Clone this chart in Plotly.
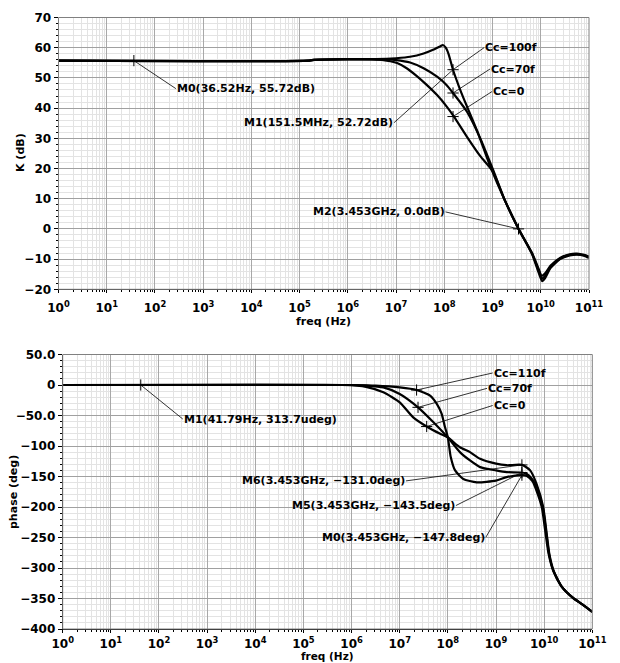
import math
import plotly.graph_objects as go

# ---------------- data: magnitude K (dB) vs log10(freq/Hz) ----------------
lgf_k100 = [0, 5.2, 5.3, 6.0, 6.8, 7.0, 7.29, 7.57, 7.78, 7.92, 7.97, 8.03, 8.09, 8.18, 8.3, 8.4,
            8.68, 8.95, 9.25, 9.54, 9.82, 9.95, 10.03, 10.1, 10.2, 10.4, 10.6, 10.75, 10.9, 11.0]
k_cc100 = [55.72, 55.75, 56.0, 56.2, 56.3, 56.5, 57.0, 58.1, 59.4, 60.5, 60.9, 60.0, 57.8, 52.7, 47.3, 43.2,
           32.5, 20.8, 9.6, 0.0, -8.4, -14.2, -17.3, -16.0, -13.0, -10.0, -8.8, -8.5, -8.9, -9.6]

lgf_k70 = [0, 5.2, 5.3, 6.0, 6.8, 7.0, 7.29, 7.57, 7.85, 8.05, 8.18, 8.47, 8.75, 9.0, 9.25, 9.54,
           9.82, 9.95, 10.03, 10.1, 10.2, 10.4, 10.6, 10.75, 10.9, 11.0]
k_cc70 = [55.72, 55.75, 56.0, 56.2, 56.1, 55.9, 55.1, 53.2, 50.4, 47.6, 45.0, 38.8, 29.8, 20.0, 9.7, 0.0,
          -8.2, -13.6, -16.5, -15.3, -12.6, -9.8, -8.6, -8.4, -8.8, -9.4]

lgf_k0 = [0, 5.2, 5.3, 6.0, 6.5, 6.74, 6.88, 7.02, 7.22, 7.43, 7.64, 7.85, 8.05, 8.2, 8.47, 8.75,
          9.0, 9.25, 9.54, 9.82, 9.95, 10.02, 10.1, 10.2, 10.4, 10.6, 10.75, 10.9, 11.0]
k_cc0 = [55.72, 55.75, 56.0, 56.15, 56.1, 55.9, 55.5, 54.9, 53.2, 50.6, 47.6, 44.3, 40.5, 37.2, 30.5, 24.0,
         19.2, 9.6, 0.0, -8.0, -13.0, -15.5, -14.5, -12.2, -9.6, -8.4, -8.2, -8.6, -9.2]

# ---------------- data: phase (deg) vs log10(freq/Hz) ----------------
lgf_p110 = [0, 6.0, 6.5, 7.0, 7.35, 7.63, 7.77, 7.87, 7.94, 8.0, 8.06, 8.15, 8.32, 8.6, 9.0, 9.22,
            9.54, 9.64, 9.76, 9.84, 9.95, 10.02, 10.09, 10.19, 10.36, 10.6, 10.8, 11.0]
p_cc110 = [0, 0, -1, -3.9, -8.2, -17.5, -31, -47, -69, -86, -118, -140, -154, -159.5, -156.8, -151,
           -147.8, -149, -158, -173, -200, -238, -276, -305, -330, -349, -360, -372]

lgf_p70 = [0, 6.0, 6.3, 6.66, 7.0, 7.38, 7.7, 8.0, 8.25, 8.46, 8.67, 9.0, 9.22, 9.54, 9.64, 9.76,
           9.86, 9.97, 10.04, 10.1, 10.19, 10.36, 10.6, 10.8, 11.0]
p_cc70 = [0, 0, -1, -4, -14.7, -36.6, -61, -86, -110, -123.7, -134.6, -140, -142.8, -143.5, -146, -155,
          -172, -200, -240, -276, -304, -330, -349, -360, -372]

lgf_p0 = [0, 5.8, 6.3, 6.66, 7.0, 7.28, 7.56, 7.84, 8.0, 8.25, 8.46, 8.67, 9.0, 9.22, 9.54, 9.71,
          9.84, 9.98, 10.05, 10.11, 10.19, 10.36, 10.6, 10.8, 11.0]
p_cc0 = [0, 0, -3, -12, -28.4, -53, -68, -80, -86, -102, -110, -121, -129, -131.5, -131.0, -140,
         -161.7, -200, -242, -278, -303, -330, -349, -360, -372]

# ---------------- markers ----------------
mk_top_f = [36.52, 151.5e6, 151.5e6, 151.5e6, 3.453e9]
mk_top_v = [55.72, 52.72, 45.0, 37.2, 0.0]
mk_bot_f = [41.79, 2.24e7, 2.4e7, 3.63e7, 3.453e9, 3.453e9, 3.453e9]
mk_bot_v = [0.0, -8.2, -36.6, -68.0, -131.0, -143.5, -147.8]

# ---------------- tick labels ----------------
x_tickvals = [10 ** i for i in range(12)]
x_ticktext = ["10<sup>%d</sup>" % i for i in range(12)]
k_tickvals = [70, 60, 50, 40, 30, 20, 10, 0, -10, -20]
k_ticktext = ["70", "60", "50", "40", "30", "20", "10", "0", "\u221210", "\u221220"]
p_tickvals = [50, 0, -50, -100, -150, -200, -250, -300, -350, -400]
p_ticktext = ["50.0", "0", "\u221250.0", "\u2212100", "\u2212150", "\u2212200", "\u2212250",
              "\u2212300", "\u2212350", "\u2212400"]

FONT = "DejaVu Sans"
W, H = 620, 663

fig = go.Figure()

line_style = dict(color="black", width=2.2, shape="spline", smoothing=0.6)

def hz(lst):
    return [10 ** v for v in lst]

for lg, vals in [(lgf_k0, k_cc0), (lgf_k70, k_cc70), (lgf_k100, k_cc100)]:
    fig.add_trace(go.Scatter(x=hz(lg), y=vals, mode="lines", line=line_style,
                             xaxis="x", yaxis="y", showlegend=False, hoverinfo="skip"))
for lg, vals in [(lgf_p0, p_cc0), (lgf_p70, p_cc70), (lgf_p110, p_cc110)]:
    fig.add_trace(go.Scatter(x=hz(lg), y=vals, mode="lines", line=line_style,
                             xaxis="x2", yaxis="y2", showlegend=False, hoverinfo="skip"))

mk = dict(symbol="cross-thin", size=8, color="black", line=dict(width=1, color="black"))
fig.add_trace(go.Scatter(x=mk_top_f, y=mk_top_v, mode="markers", marker=mk,
                         xaxis="x", yaxis="y", showlegend=False, hoverinfo="skip"))
fig.add_trace(go.Scatter(x=mk_bot_f, y=mk_bot_v, mode="markers", marker=mk,
                         xaxis="x2", yaxis="y2", showlegend=False, hoverinfo="skip"))

# ---------------- axes ----------------
def xaxis(domain, anchor, standoff):
    return dict(type="log", domain=domain, anchor=anchor, range=[0, 11],
                tickmode="array", tickvals=x_tickvals, ticktext=x_ticktext,
                tickfont=dict(family=FONT, size=12, color="black", weight="bold"),
                ticks="outside", ticklen=3, tickcolor="black", ticklabelstandoff=standoff,
                showline=True, linecolor="black", linewidth=1,
                showgrid=True, gridcolor="#a8a8a8", gridwidth=1,
                minor=dict(dtick="D1", showgrid=True, gridcolor="#e3e3e3", gridwidth=1,
                           ticks="outside", ticklen=2, tickcolor="black"),
                zeroline=False, automargin=False, fixedrange=True)

def yaxis(domain, anchor, rng, tv, tt, mdt):
    return dict(domain=domain, anchor=anchor, range=rng,
                tickmode="array", tickvals=tv, ticktext=tt,
                tickfont=dict(family=FONT, size=12, color="black", weight="bold"),
                ticks="outside", ticklen=4, tickcolor="black",
                showline=True, linecolor="black", linewidth=1,
                showgrid=True, gridcolor="#a0a0a0", gridwidth=1,
                minor=dict(dtick=mdt, showgrid=True, gridcolor="#e3e3e3", gridwidth=1,
                           ticks="outside", ticklen=2, tickcolor="black"),
                zeroline=False, automargin=False, fixedrange=True)

xd1 = [58.5 / W, 589.0 / W]
yd1 = [1 - 289.3 / H, 1 - 17.5 / H]
xd2 = [62.7 / W, 592.3 / W]
yd2 = [1 - 629.0 / H, 1 - 354.5 / H]

fig.update_layout(
    width=W, height=H,
    margin=dict(l=0, r=0, t=0, b=0),
    paper_bgcolor="white", plot_bgcolor="white",
    showlegend=False,
    xaxis=xaxis(xd1, "y", 4),
    yaxis=yaxis(yd1, "x", [-20, 70], k_tickvals, k_ticktext, 2),
    xaxis2=xaxis(xd2, "y2", 1),
    yaxis2=yaxis(yd2, "x2", [-400, 50], p_tickvals, p_ticktext, 10),
)

# plot frame (top / right edges)
for xr, yr in [("x domain", "y domain"), ("x2 domain", "y2 domain")]:
    fig.add_shape(type="rect", xref=xr, yref=yr, x0=0, x1=1, y0=0, y1=1,
                  line=dict(color="#808080", width=1), layer="above")

# ---------------- marker labels with leader lines ----------------
afont = dict(family=FONT, size=11, color="black", weight="bold")

def label(text, f, v, ax, ay, xanchor, xref="x", yref="y"):
    fig.add_annotation(text=text, x=math.log10(f), y=v, xref=xref, yref=yref,
                       ax=ax, ay=ay, xanchor=xanchor, yanchor="middle",
                       showarrow=True, arrowhead=0, arrowwidth=0.8, arrowcolor="black",
                       standoff=0, startstandoff=0, font=afont, borderpad=0)

label("M0(36.52Hz, 55.72dB)", mk_top_f[0], mk_top_v[0], 42, 28, "left")
label("M1(151.5MHz, 52.72dB)", mk_top_f[1], mk_top_v[1], -59, 53, "right")
label("M2(3.453GHz, 0.0dB)", mk_top_f[4], mk_top_v[4], -73, -17, "right")
label("Cc=100f", mk_top_f[1], mk_top_v[1], 31, -22, "left")
label("Cc=70f", mk_top_f[2], mk_top_v[2], 37, -24, "left")
label("Cc=0", mk_top_f[3], mk_top_v[3], 39, -25, "left")

label("M1(41.79Hz, 313.7udeg)", mk_bot_f[0], mk_bot_v[0], 42, 34, "left", "x2", "y2")
label("Cc=110f", mk_bot_f[1], mk_bot_v[1], 76, -17, "left", "x2", "y2")
label("Cc=70f", mk_bot_f[2], mk_bot_v[2], 69, -19, "left", "x2", "y2")
label("Cc=0", mk_bot_f[3], mk_bot_v[3], 66, -21, "left", "x2", "y2")
label("M6(3.453GHz, \u2212131.0deg)", mk_bot_f[4], mk_bot_v[4], -116, 16, "right", "x2", "y2")
label("M5(3.453GHz, \u2212143.5deg)", mk_bot_f[5], mk_bot_v[5], -66, 33, "right", "x2", "y2")
label("M0(3.453GHz, \u2212147.8deg)", mk_bot_f[6], mk_bot_v[6], -36, 62, "right", "x2", "y2")

# ---------------- axis titles ----------------
tfont = dict(family=FONT, size=11, color="black", weight="bold")
fig.add_annotation(text="freq (Hz)", x=323.8 / W, y=1 - 321 / H, xref="paper", yref="paper",
                   showarrow=False, font=tfont, xanchor="center", yanchor="middle")
fig.add_annotation(text="K (dB)", x=20 / W, y=1 - 153 / H, xref="paper", yref="paper",
                   showarrow=False, font=tfont, textangle=-90, xanchor="center", yanchor="middle")
fig.add_annotation(text="freq (Hz)", x=327.5 / W, y=0, xref="paper", yref="paper",
                   showarrow=False, font=dict(family=FONT, size=10.5, color="black", weight="bold"),
                   xanchor="center", yanchor="bottom", borderpad=0)
fig.add_annotation(text="phase (deg)", x=13 / W, y=1 - 492 / H, xref="paper", yref="paper",
                   showarrow=False, font=tfont, textangle=-90, xanchor="center", yanchor="middle")

fig.write_html("out.html", config={"displayModeBar": False},
               post_script="document.body.style.margin='0';document.body.style.padding='0';")
